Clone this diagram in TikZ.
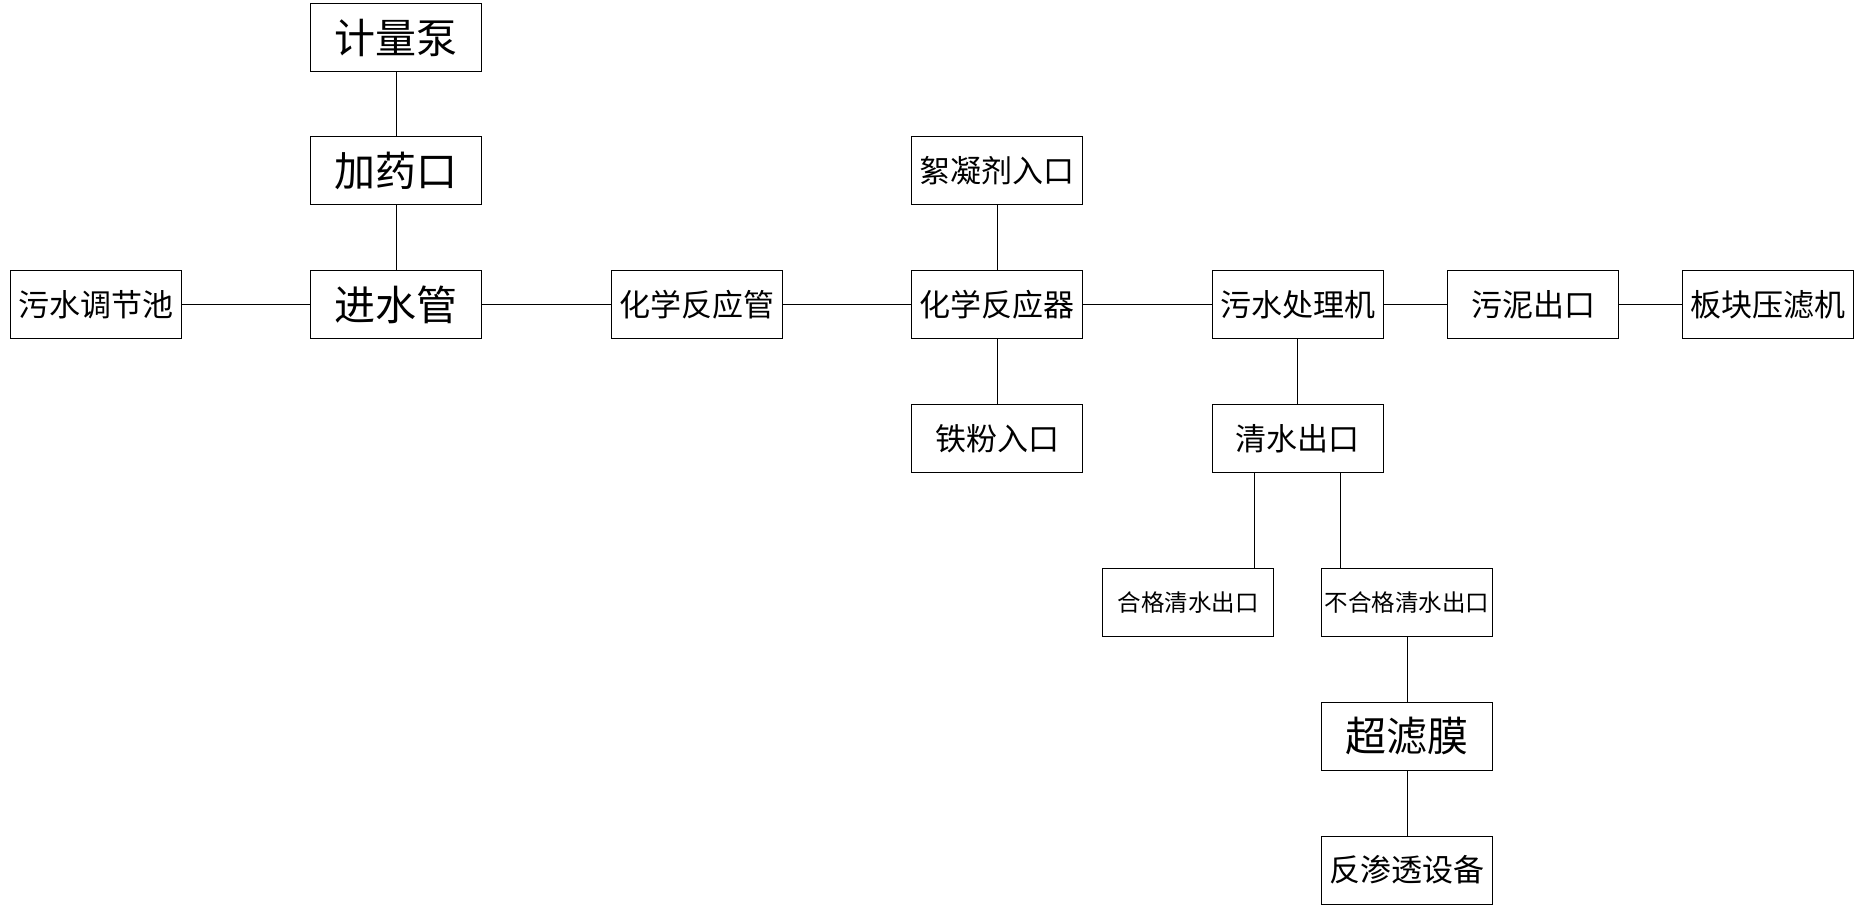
\documentclass[tikz,border=0pt]{standalone}
\usepackage{fontspec}
\newfontfamily\cjk{Noto Sans CJK SC}
\begin{document}
\begin{tikzpicture}[x=1pt,y=-1pt,
  box/.style={draw=black, line width=1pt, minimum width=171pt, minimum height=68pt, inner sep=0pt, align=center},
  big/.style={font=\cjk\fontsize{41}{41}\selectfont},
  mid/.style={font=\cjk\fontsize{31}{31}\selectfont},
  sml/.style={font=\cjk\fontsize{23.5}{23.5}\selectfont},
  conn/.style={draw=black, line width=1pt}]
\useasboundingbox (0,0) rectangle (1856,912);
\node[box,big] (jlb) at (396,37.5) {计量泵};
\node[box,big] (jyk) at (396,171) {加药口};
\node[box,big] (jsg) at (396,304.5) {进水管};
\node[box,mid] (wstj) at (95.7,304.5) {污水调节池};
\node[box,mid] (hxg) at (696.5,304.5) {化学反应管};
\node[box,mid] (xnj) at (997,171) {絮凝剂入口};
\node[box,mid] (hxq) at (997,304.5) {化学反应器};
\node[box,mid] (tf) at (997,438.5) {铁粉入口};
\node[box,mid] (wscl) at (1297.5,304.5) {污水处理机};
\node[box,mid] (wnck) at (1533,304.5) {污泥出口};
\node[box,mid] (bkyl) at (1768,304.5) {板块压滤机};
\node[box,mid] (qsck) at (1297.5,438.5) {清水出口};
\node[box,sml] (hg) at (1188,602.5) {合格清水出口};
\node[box,sml] (bhg) at (1407,602.5) {不合格清水出口};
\node[box,big] (clm) at (1407,736) {超滤膜};
\node[box,mid] (fst) at (1407,870) {反渗透设备};
\draw[conn] (jlb) -- (jyk);
\draw[conn] (jyk) -- (jsg);
\draw[conn] (wstj) -- (jsg);
\draw[conn] (jsg) -- (hxg);
\draw[conn] (hxg) -- (hxq);
\draw[conn] (xnj) -- (hxq);
\draw[conn] (hxq) -- (tf);
\draw[conn] (hxq) -- (wscl);
\draw[conn] (wscl) -- (wnck);
\draw[conn] (wnck) -- (bkyl);
\draw[conn] (wscl) -- (qsck);
\draw[conn] ([xshift=-43pt]qsck.south) -- ([xshift=-43pt]qsck.south |- hg.north);
\draw[conn] ([xshift=43pt]qsck.south) -- ([xshift=43pt]qsck.south |- bhg.north);
\draw[conn] (bhg) -- (clm);
\draw[conn] (clm) -- (fst);
\end{tikzpicture}
\end{document}
